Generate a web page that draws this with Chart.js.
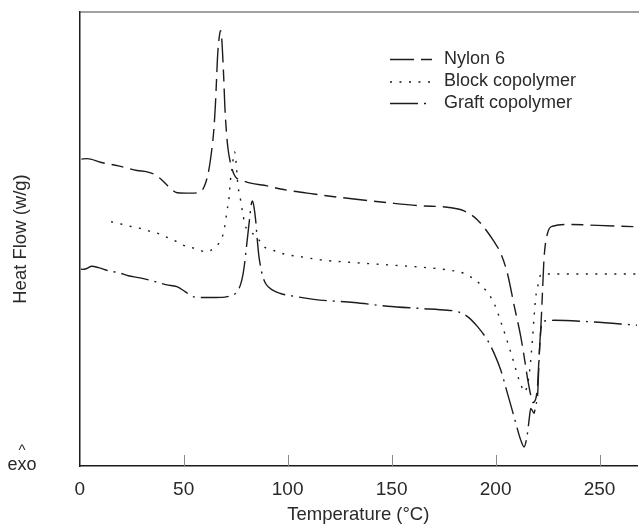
<!DOCTYPE html>
<html>
<head>
<meta charset="utf-8">
<script src="https://cdn.jsdelivr.net/npm/chart.js@4/dist/chart.umd.min.js"></script>
<style>
  html, body { margin: 0; padding: 0; background: #fff; }
  #wrap { width: 639px; height: 532px; }
</style>
</head>
<body>
<div id="wrap"><canvas id="c" width="639" height="532"></canvas></div>
<script>
// DSC heating scans: temperature (°C) and heat flow (arbitrary offset units)
const nylonT  = [0.8, 3.6, 10.0, 18.6, 27.6, 32.4, 36.4, 40.4, 42.8, 46.9, 53.3, 58.1, 60.5, 62.1, 63.7, 64.5, 65.3, 65.8, 66.4, 67.4, 67.7, 68.1, 68.7, 69.3, 69.8, 70.6, 71.4, 72.2, 73.4, 74.9, 78.2, 82.2, 90.2, 96.6, 112.6, 131.9, 148.0, 164.0, 176.8, 184.8, 191.3, 199.3, 202.5, 205.7, 208.9, 212.1, 214.0, 215.5, 216.9, 217.9, 219.1, 220.2, 220.9, 221.7, 222.6, 223.3, 225.0, 227.4, 236.2, 249.0, 268.0];
const nylonHF = [67.6, 67.7, 66.9, 66.1, 65.1, 64.8, 64.1, 62.6, 61.5, 60.2, 60.1, 60.4, 62.3, 65.2, 70.4, 74.0, 79.9, 85.1, 91.0, 95.4, 95.9, 95.4, 91.0, 85.1, 79.2, 73.3, 69.6, 67.4, 65.2, 63.7, 62.9, 62.3, 61.7, 61.0, 59.9, 58.8, 58.0, 57.3, 57.0, 56.2, 54.2, 49.4, 46.8, 42.4, 35.4, 28.5, 23.3, 18.9, 15.6, 14.0, 14.5, 17.8, 24.0, 29.9, 38.8, 45.8, 51.3, 52.8, 53.2, 53.0, 52.7];

const blockT  = [15.1, 19.9, 24.3, 28.6, 33.1, 37.9, 42.4, 47.2, 51.5, 56.0, 60.5, 65.3, 68.5, 69.6, 70.9, 71.7, 72.5, 73.4, 74.1, 74.5, 75.4, 76.1, 77.0, 77.7, 78.6, 79.3, 84.6, 88.6, 92.6, 98.2, 106.2, 115.9, 131.9, 148.0, 164.0, 176.8, 184.8, 192.9, 199.3, 203.3, 206.5, 208.9, 211.3, 212.9, 213.7, 215.3, 216.4, 217.7, 218.5, 219.3, 220.2, 221.7, 226.5, 268.0];
const blockHF = [53.8, 53.3, 52.8, 52.4, 51.8, 51.2, 50.3, 49.3, 48.3, 47.9, 47.2, 48.3, 50.4, 52.4, 56.4, 58.6, 63.0, 65.9, 68.9, 69.2, 65.8, 61.7, 59.7, 57.5, 55.3, 53.3, 50.8, 48.3, 47.6, 46.7, 46.1, 45.4, 44.8, 44.3, 43.8, 43.2, 42.4, 39.9, 35.8, 30.7, 26.2, 22.6, 18.9, 17.1, 16.3, 17.8, 21.1, 27.7, 32.8, 37.2, 39.4, 42.1, 42.3, 42.3];

const graftT  = [0.6, 1.3, 3.4, 5.8, 9.0, 13.8, 18.6, 23.4, 28.3, 33.1, 37.9, 41.9, 46.7, 50.7, 53.9, 57.1, 61.3, 65.3, 70.9, 74.9, 77.3, 78.6, 79.3, 80.2, 81.1, 81.8, 82.6, 83.1, 83.8, 84.6, 85.4, 86.2, 87.0, 87.8, 89.4, 92.6, 96.6, 103.0, 112.6, 131.9, 148.0, 164.0, 176.8, 181.7, 186.5, 191.3, 196.1, 199.3, 202.5, 205.7, 208.9, 212.1, 213.7, 215.2, 216.2, 216.9, 218.5, 219.3, 220.2, 220.9, 221.5, 222.6, 224.6, 228.1, 244.2, 268.0];
const graftHF = [43.4, 43.3, 43.5, 44.0, 43.7, 43.0, 42.6, 41.9, 41.5, 41.0, 40.4, 39.9, 39.5, 38.4, 37.4, 37.1, 37.1, 37.1, 37.3, 38.0, 39.9, 42.4, 44.6, 48.3, 52.0, 54.9, 57.9, 58.4, 57.1, 54.2, 49.8, 46.1, 43.9, 42.1, 40.2, 38.8, 38.0, 37.4, 36.7, 36.0, 35.2, 34.7, 34.3, 34.0, 32.9, 30.7, 27.7, 24.8, 21.1, 16.0, 10.8, 5.7, 4.2, 6.8, 10.5, 12.7, 11.6, 13.4, 15.6, 23.3, 28.8, 31.7, 32.0, 32.1, 31.8, 31.0];

const seriesNames = ['Nylon 6', 'Block copolymer', 'Graft copolymer'];
const xTickValues = [0, 50, 100, 150, 200, 250];

const FONT = "'Liberation Sans', Arial, Helvetica, sans-serif";
const INK = '#1c1c1c';
const TEXT = '#2a2a2a';

const pairs = (xs, ys) => xs.map((x, i) => ({ x, y: ys[i] }));

// frame top edge, inward tick marks, exo marker and the key
const decorations = {
  id: 'decorations',
  afterDraw(chart) {
    const { ctx, chartArea: a, scales } = chart;
    ctx.save();
    // top frame line
    ctx.strokeStyle = '#444';
    ctx.lineWidth = 1.2;
    ctx.beginPath();
    ctx.moveTo(a.left, a.top);
    ctx.lineTo(chart.width, a.top);
    ctx.stroke();
    // inward ticks on the temperature axis
    ctx.strokeStyle = '#8a8a8a';
    ctx.lineWidth = 1;
    xTickValues.forEach(v => {
      if (v === 0) return;
      const px = Math.round(scales.x.getPixelForValue(v)) + 0.5;
      ctx.beginPath();
      ctx.moveTo(px, a.bottom);
      ctx.lineTo(px, a.bottom - 11);
      ctx.stroke();
    });
    // exo direction marker
    ctx.fillStyle = TEXT;
    ctx.textAlign = 'center';
    ctx.textBaseline = 'middle';
    ctx.font = '15px ' + FONT;
    ctx.fillText('^', 22, 451);
    ctx.font = '18px ' + FONT;
    ctx.fillText('exo', 22, 465);
    // key
    const rows = [59, 81.5, 103];
    chart.data.datasets.forEach((ds, i) => {
      const y = rows[i] + 0.5;
      ctx.strokeStyle = ds.borderColor;
      ctx.lineWidth = ds.borderWidth;
      ctx.setLineDash(ds.borderDash);
      ctx.beginPath();
      ctx.moveTo(390, y);
      ctx.lineTo(432, y);
      ctx.stroke();
      ctx.setLineDash([]);
      ctx.fillStyle = TEXT;
      ctx.textAlign = 'left';
      ctx.textBaseline = 'middle';
      ctx.font = '18px ' + FONT;
      ctx.fillText(ds.label, 444, rows[i]);
    });
    ctx.restore();
  }
};

const lineStyle = (label, data, dash) => ({
  label,
  data,
  borderColor: INK,
  borderWidth: 1.4,
  borderDash: dash,
  pointRadius: 0,
  fill: false,
  cubicInterpolationMode: 'monotone'
});

new Chart(document.getElementById('c'), {
  type: 'line',
  data: {
    datasets: [
      lineStyle(seriesNames[0], pairs(nylonT, nylonHF), [24, 7, 12, 7]),
      lineStyle(seriesNames[1], pairs(blockT, blockHF), [2, 7.5]),
      lineStyle(seriesNames[2], pairs(graftT, graftHF), [28, 6, 2, 6])
    ]
  },
  options: {
    responsive: false,
    animation: false,
    devicePixelRatio: 1,
    layout: { padding: { left: 0, right: 2, top: 12, bottom: 5 } },
    plugins: { legend: { display: false }, tooltip: { enabled: false } },
    scales: {
      x: {
        type: 'linear',
        min: 0,
        max: 268,
        afterBuildTicks: s => { s.ticks = xTickValues.map(v => ({ value: v })); },
        ticks: {
          font: { family: FONT, size: 19 },
          color: TEXT,
          padding: 12,
          maxRotation: 0,
          callback: v => String(v)
        },
        grid: { display: false, drawTicks: false },
        border: { display: true, color: INK, width: 1.5 },
        title: {
          display: true,
          text: 'Temperature (°C)',
          font: { family: FONT, size: 18.5 },
          color: TEXT,
          padding: { top: -9, bottom: 1 }
        }
      },
      y: {
        min: 0,
        max: 100,
        ticks: { display: false },
        grid: { display: false, drawTicks: false },
        border: { display: true, color: INK, width: 1.5 },
        title: {
          display: true,
          text: 'Heat Flow (w/g)',
          font: { family: FONT, size: 18.5 },
          color: TEXT,
          padding: { top: 10, bottom: 47.5 }
        }
      }
    }
  },
  plugins: [decorations]
});
</script>
</body>
</html>
